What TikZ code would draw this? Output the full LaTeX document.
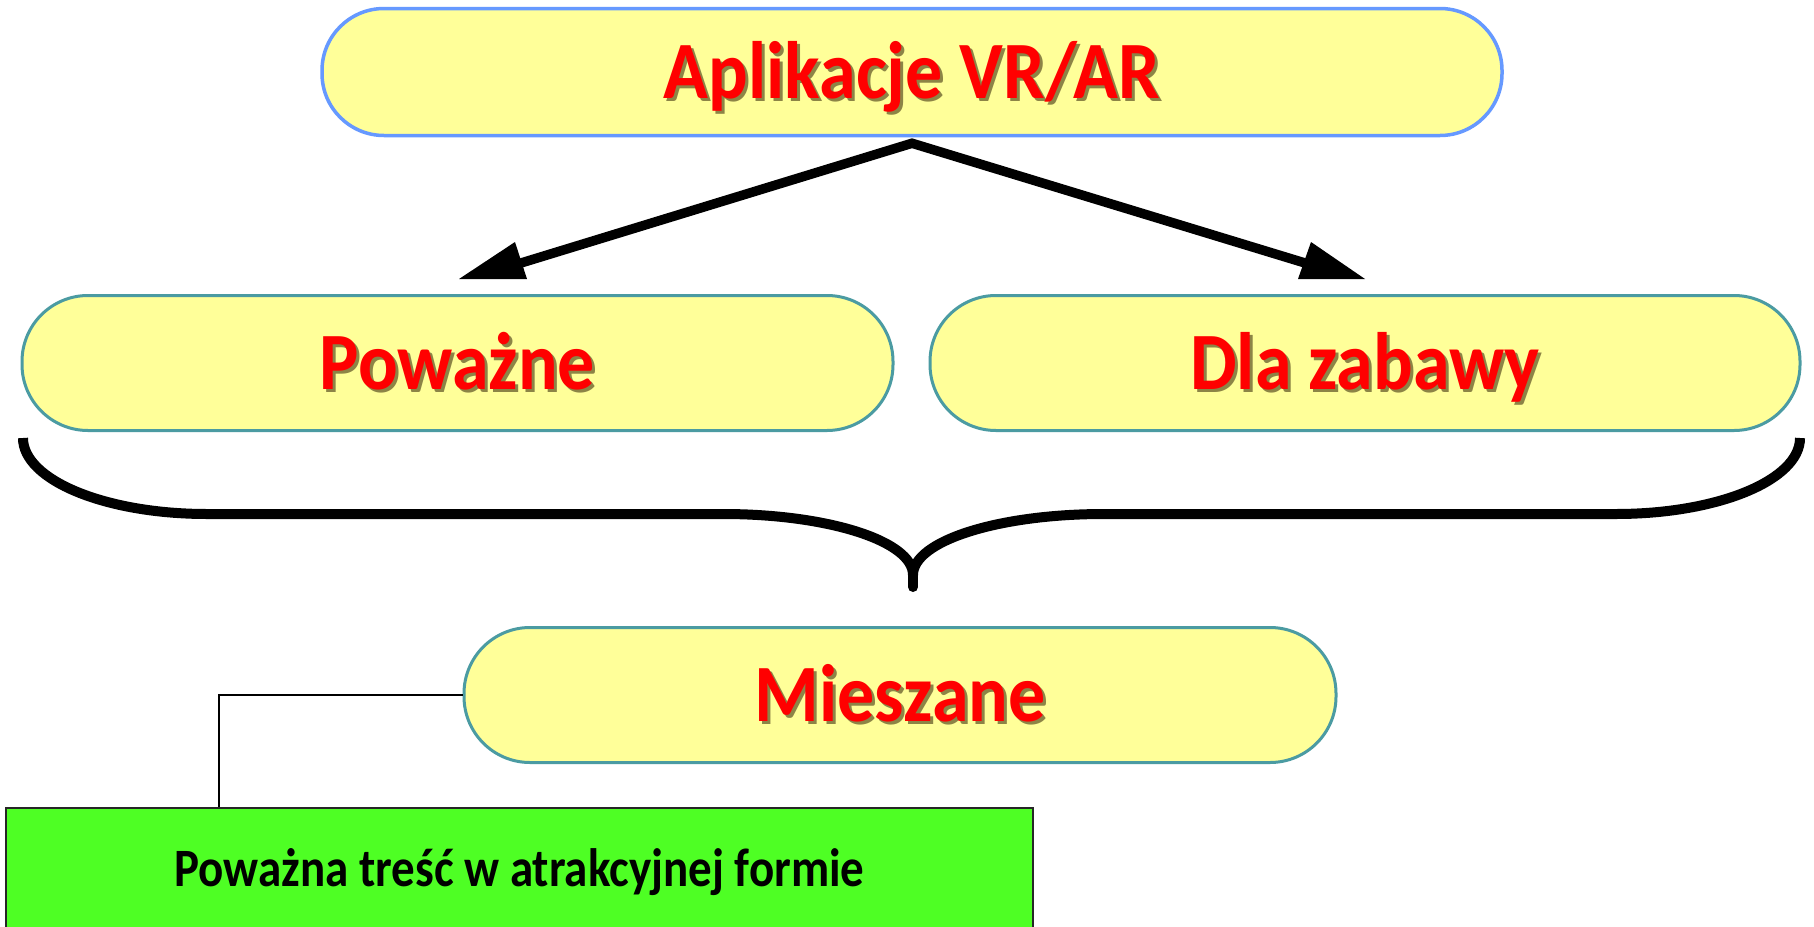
\documentclass[tikz,border=0pt]{standalone}
\usepackage{fontspec}
\setmainfont{Carlito}
\usetikzlibrary{calc}
\definecolor{pillfill}{RGB}{255,255,153}
\definecolor{topedge}{RGB}{102,153,255}
\definecolor{pilledge}{RGB}{75,155,162}
\definecolor{txtred}{RGB}{255,0,0}
\definecolor{shadowc}{RGB}{140,132,70}
\definecolor{boxgreen}{RGB}{78,255,36}
\newcommand\shd[1]{\scalebox{1}[1.1]{\rlap{\hspace{3pt}\raisebox{-3pt}{\textcolor{shadowc}{#1}}}#1}}
\newcommand\tallt[1]{\scalebox{1}[1.15]{#1}}
\tikzset{
  pill/.style={draw=pilledge, line width=3pt, fill=pillfill, rounded corners=66pt,
    minimum height=135pt, inner sep=0pt, text=txtred,
    font=\fontsize{74}{80}\selectfont\bfseries, text height=52pt, text depth=0pt},
  toppill/.style={pill, draw=topedge, line width=3.5pt, minimum height=127pt, rounded corners=62pt},
  arrowline/.style={line width=9.5pt, line join=miter, miter limit=10},
  headfill/.style={fill=black},
  bracestyle/.style={line width=10pt},
  conn/.style={line width=2pt, black},
  greenbox/.style={draw=black!85, line width=2pt, fill=boxgreen, inner sep=0pt,
    font=\fontsize{47}{52}\selectfont\bfseries, text height=35pt, text depth=0pt}
}
\begin{document}
\begin{tikzpicture}[x=1pt,y=-1pt]
\useasboundingbox (0,0) rectangle (1814,926);
\clip (0,0) rectangle (1814,926);
\fill[white] (0,0) rectangle (1814,926);

\node[toppill, minimum width=1180pt] (top) at (912,72) {\shd{Aplikacje VR/AR}};
\node[pill, minimum width=871pt] (pow) at (457.5,363) {\shd{Poważne}};
\node[pill, minimum width=870pt] (fun) at (1365,363) {\shd{Dla zabawy}};
\node[pill, minimum width=872pt] (mix) at (900,695) {\shd{Mieszane}};
\node[greenbox, minimum width=1027pt, minimum height=122pt] (green) at (519.5,869) {\tallt{Poważna treść w atrakcyjnej formie}};

% arrows
\coordinate (lb) at (521,263);
\coordinate (rb) at (1305,263);
\draw[arrowline] (lb) -- ([yshift=-6pt]top.south) -- (rb);
\coordinate (ltip) at (459,279);
\coordinate (rtip) at (1365,279);
\fill[headfill] (ltip) -- (515,242) -- (527,279) -- cycle;
\fill[headfill] (rtip) -- (1311,242) -- (1298,279) -- cycle;

% brace
\draw[bracestyle] (23,438) .. controls (23,480) and (105,514) .. (207,514) -- (723,514)
  .. controls (828,514) and (913,541) .. (913,575);
\draw[bracestyle] (1800,438) .. controls (1800,480) and (1718,514) .. (1616,514) -- (1104,514)
  .. controls (998,514) and (913,541) .. (913,575);
\draw[bracestyle, line cap=round] (913,570) -- (913,587);

% connector
\draw[conn] (mix.west) -| ([xshift=214pt]green.north west);
\end{tikzpicture}
\end{document}
